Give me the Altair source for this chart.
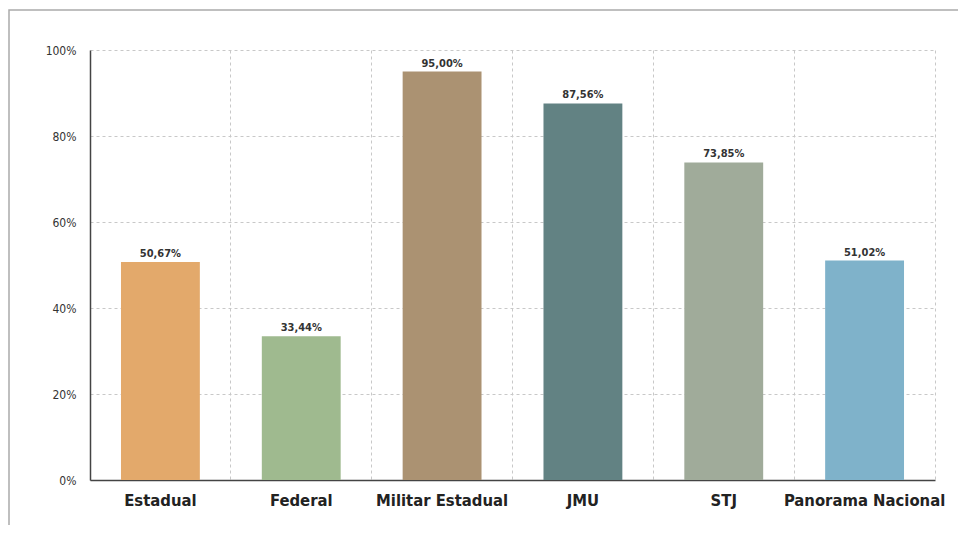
import altair as alt
import pandas as pd

categories = ["Estadual", "Federal", "Militar Estadual", "JMU", "STJ", "Panorama Nacional"]
values = [50.67, 33.44, 95.00, 87.56, 73.85, 51.02]
colors = ["#E3A96B", "#9FBA8F", "#AB9272", "#628283", "#A0AB9A", "#7FB2CA"]

df = pd.DataFrame({
    "cat": categories,
    "val": values,
    "label": [f"{v:.2f}%".replace(".", ",") for v in values],
})

FONT = "Liberation Sans Narrow, DejaVu Sans Condensed, Liberation Sans, sans-serif"
PI = 0.44

frame = alt.Chart(pd.DataFrame({"a": [0]})).mark_rect(
    fillOpacity=0, stroke="#aaaaaa", strokeWidth=1.5
).encode(
    x=alt.value(-81), x2=alt.value(900), y=alt.value(-40), y2=alt.value(520)
)

xenc = alt.X("cat:N", sort=categories, title=None,
             scale=alt.Scale(paddingInner=PI, paddingOuter=PI / 2),
             axis=alt.Axis(labelAngle=0, labelFont=FONT, labelFontSize=16.5,
                           labelFontWeight="bold", labelColor="#222222",
                           labelPadding=12, ticks=False, domainColor="#444444",
                           domainWidth=1.5, grid=True,
                           bandPosition=1 + (PI / 2) / (1 - PI),
                           gridDash=[3, 3], gridColor="#c8c8c8"))
yenc = alt.Y("val:Q", title=None,
             scale=alt.Scale(domain=[0, 100], nice=False),
             axis=alt.Axis(values=[0, 20, 40, 60, 80, 100],
                           labelExpr="datum.value + '%'",
                           labelFont=FONT, labelFontSize=12, labelColor="#333333",
                           labelPadding=14, ticks=False, domainColor="#444444",
                           domainWidth=1.5, gridDash=[3, 3], gridColor="#c8c8c8"))

bars = alt.Chart(df).mark_bar().encode(
    x=xenc, y=yenc,
    color=alt.Color("cat:N", sort=categories,
                    scale=alt.Scale(domain=categories, range=colors), legend=None),
)

text = alt.Chart(df).mark_text(
    dy=-8, font=FONT, fontSize=11, fontWeight="bold", color="#333333"
).encode(
    x=alt.X("cat:N", sort=categories),
    y="val:Q",
    text="label:N",
)

chart = alt.layer(bars, text, frame).properties(
    width=845, height=430,
    autosize=alt.AutoSizeParams(type="none"),
    padding={"left": 82, "top": 42, "right": 23, "bottom": 45},
).configure_view(stroke=None)

chart.save("out.html", embed_options={"renderer": "svg", "actions": False})
